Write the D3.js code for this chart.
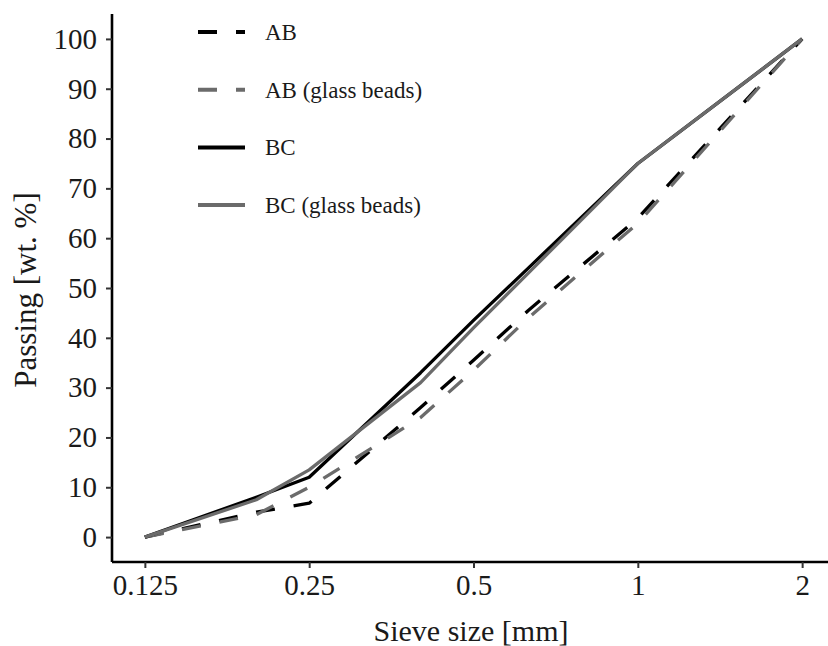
<!DOCTYPE html>
<html>
<head>
<meta charset="utf-8">
<script src="https://cdn.jsdelivr.net/npm/d3@7"></script>
<style>
  html, body { margin: 0; padding: 0; background: #fff; }
  svg { display: block; }
  text { font-family: "Liberation Serif", "DejaVu Serif", serif; fill: #1a1a1a; }
</style>
</head>
<body>
<svg id="chart" width="828" height="646"></svg>
<script>
// Sieve sizes [mm] and cumulative passing [wt. %]
const sieveSizes = [0.125, 0.2, 0.25, 0.4, 0.5, 0.63, 1, 2];
const passingAB = [0, 5, 6.8, 26, 35.5, 45.5, 64, 100];
const passingABGlass = [0, 4.5, 10, 24, 33.5, 44, 63, 100];
const passingBC = [0, 8, 12, 33, 43.5, 54, 75, 100];
const passingBCGlass = [0, 7.5, 13.5, 31, 42, 53, 75, 100];

const seriesNames = ["AB", "AB (glass beads)", "BC", "BC (glass beads)"];
const seriesValues = [passingAB, passingABGlass, passingBC, passingBCGlass];
const seriesColors = ["#000000", "#6b6b6b", "#000000", "#6b6b6b"];
const seriesDashed = [true, true, false, false];

const xTicks = [0.125, 0.25, 0.5, 1, 2];
const xTickLabels = ["0.125", "0.25", "0.5", "1", "2"];
const yTicks = [0, 10, 20, 30, 40, 50, 60, 70, 80, 90, 100];

const svg = d3.select("#chart");
const panel = { left: 112, right: 835, top: 14, bottom: 562 };

const x = d3.scaleLog().base(2)
  .domain([0.125 * Math.pow(2, -0.2), 2 * Math.pow(2, 0.2)])
  .range([panel.left, panel.right]);
const y = d3.scaleLinear().domain([-5, 105]).range([panel.bottom, panel.top]);

// Curves
const line = d3.line().x(d => x(d[0])).y(d => y(d[1]));
const plot = svg.append("g");
seriesValues.forEach((vals, i) => {
  plot.append("path")
    .datum(sieveSizes.map((s, j) => [s, vals[j]]))
    .attr("d", line)
    .attr("fill", "none")
    .attr("stroke", seriesColors[i])
    .attr("stroke-width", 3.3)
    .attr("stroke-linejoin", "round")
    .attr("stroke-dasharray", seriesDashed[i] ? "19,19" : null);
});

// Axes
const xAxis = svg.append("g")
  .attr("transform", `translate(0,${panel.bottom})`)
  .call(d3.axisBottom(x).tickValues(xTicks).tickFormat((d, i) => xTickLabels[i]).tickSize(6).tickPadding(6));
const yAxis = svg.append("g")
  .attr("transform", `translate(${panel.left},0)`)
  .call(d3.axisLeft(y).tickValues(yTicks).tickSize(6).tickPadding(9));

[xAxis, yAxis].forEach(g => {
  g.select(".domain").attr("stroke", "#000").attr("stroke-width", 2.6);
  g.selectAll(".tick line").attr("stroke", "#333").attr("stroke-width", 2);
  g.selectAll(".tick text")
    .attr("fill", "#1a1a1a")
    .style("font-family", "'Liberation Serif', serif")
    .style("font-size", "29px");
});
// Axis lines span the full panel
xAxis.select(".domain").attr("d", `M${panel.left},0H${panel.right}`);
yAxis.select(".domain").attr("d", `M0,${panel.top}V${panel.bottom}`);

// Axis titles
svg.append("text")
  .attr("x", 471).attr("y", 641)
  .attr("text-anchor", "middle")
  .style("font-size", "30px")
  .text("Sieve size [mm]");
svg.append("text")
  .attr("transform", `translate(36,290) rotate(-90)`)
  .attr("text-anchor", "middle")
  .style("font-size", "31px")
  .text("Passing [wt. %]");

// Legend
const legend = svg.append("g");
seriesNames.forEach((name, i) => {
  const ly = 32 + i * 57.7;
  legend.append("line")
    .attr("x1", 198).attr("x2", 245)
    .attr("y1", ly).attr("y2", ly)
    .attr("stroke", seriesColors[i])
    .attr("stroke-width", 4)
    .attr("stroke-dasharray", seriesDashed[i] ? "19,19" : null);
  legend.append("text")
    .attr("x", 265).attr("y", ly + 8)
    .style("font-size", "23px")
    .text(name);
});
</script>
</body>
</html>
